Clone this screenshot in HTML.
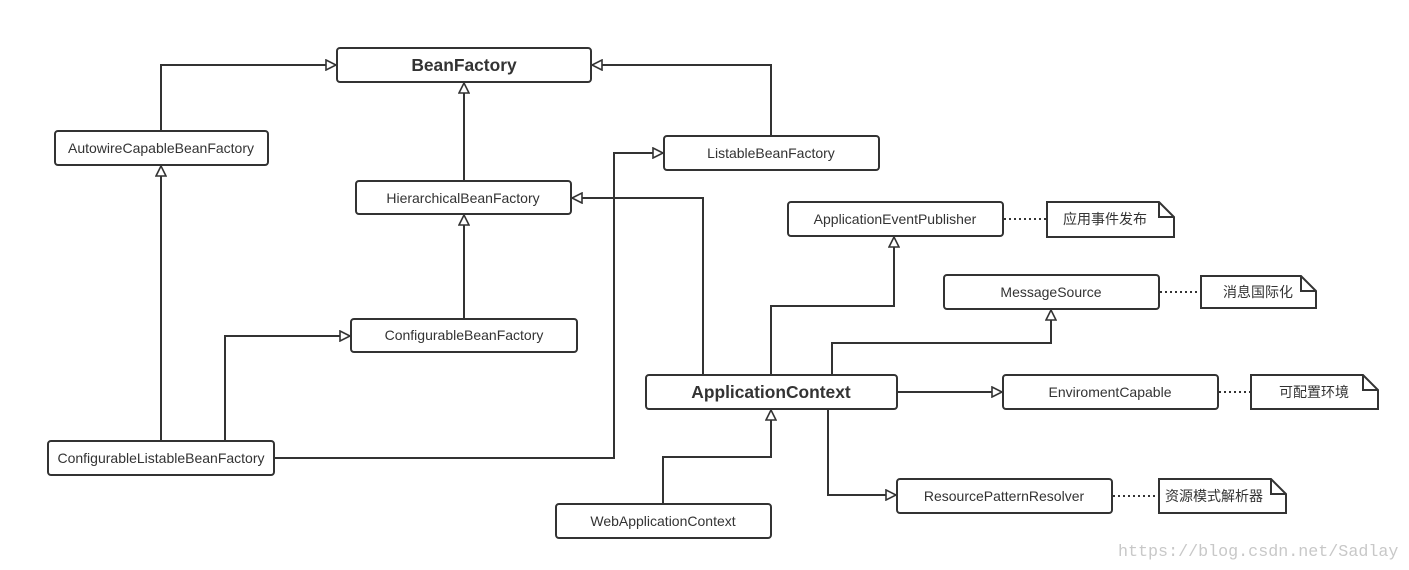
<!DOCTYPE html>
<html><head><meta charset="utf-8"><style>
html,body{margin:0;padding:0;background:#fff}
svg{display:block}
text{font-family:"Liberation Sans","Noto Sans CJK SC",sans-serif;fill:#333;font-size:14px}
.b{font-weight:bold;font-size:17.4px}
</style></head><body>
<svg width="1409" height="570" viewBox="0 0 1409 570" xmlns="http://www.w3.org/2000/svg">
<defs>
<marker id="t" viewBox="0 0 12 12" refX="11" refY="6" markerWidth="12" markerHeight="12" markerUnits="userSpaceOnUse" orient="auto">
<path d="M1,1 L11,6 L1,11 Z" fill="#fff" stroke="#333" stroke-width="1.6"/>
</marker>
</defs>
<g fill="none" stroke="#333" stroke-width="2">
<polyline points="161,131 161,65 336,65" marker-end="url(#t)"/>
<polyline points="771,136 771,65 592,65" marker-end="url(#t)"/>
<polyline points="464,181 464,83" marker-end="url(#t)"/>
<polyline points="464,319 464,215" marker-end="url(#t)"/>
<polyline points="161,441 161,166" marker-end="url(#t)"/>
<polyline points="225,441 225,336 350,336" marker-end="url(#t)"/>
<polyline points="274,458 614,458 614,153 663,153" marker-end="url(#t)"/>
<polyline points="703,375 703,198 572,198" marker-end="url(#t)"/>
<polyline points="771,375 771,306 894,306 894,237" marker-end="url(#t)"/>
<polyline points="832,375 832,343 1051,343 1051,310" marker-end="url(#t)"/>
<polyline points="897,392 1002,392" marker-end="url(#t)"/>
<polyline points="828,409 828,495 896,495" marker-end="url(#t)"/>
<polyline points="663,504 663,457 771,457 771,410" marker-end="url(#t)"/>
</g>
<g stroke="#333" stroke-width="2" stroke-dasharray="2,3">
<line x1="1004" y1="219" x2="1046" y2="219"/>
<line x1="1160" y1="292" x2="1200" y2="292"/>
<line x1="1219" y1="392" x2="1250" y2="392"/>
<line x1="1113" y1="496" x2="1158" y2="496"/>
</g>
<g fill="#fff" stroke="#333" stroke-width="2">
<rect x="337" y="48" width="254" height="34" rx="3"/>
<rect x="55" y="131" width="213" height="34" rx="3"/>
<rect x="664" y="136" width="215" height="34" rx="3"/>
<rect x="356" y="181" width="215" height="33" rx="3"/>
<rect x="788" y="202" width="215" height="34" rx="3"/>
<rect x="944" y="275" width="215" height="34" rx="3"/>
<rect x="351" y="319" width="226" height="33" rx="3"/>
<rect x="646" y="375" width="251" height="34" rx="3"/>
<rect x="1003" y="375" width="215" height="34" rx="3"/>
<rect x="48" y="441" width="226" height="34" rx="3"/>
<rect x="897" y="479" width="215" height="34" rx="3"/>
<rect x="556" y="504" width="215" height="34" rx="3"/>
<path d="M1047,202 H1159 L1174,217 V237 H1047 Z M1159,202 V217 H1174"/>
<path d="M1201,276 H1301 L1316,291 V308 H1201 Z M1301,276 V291 H1316"/>
<path d="M1251,375 H1363 L1378,390 V409 H1251 Z M1363,375 V390 H1378"/>
<path d="M1159,479 H1271 L1286,494 V513 H1159 Z M1271,479 V494 H1286"/>
</g>
<g text-anchor="middle">
<text class="b" x="464" y="71">BeanFactory</text>
<text x="161" y="153">AutowireCapableBeanFactory</text>
<text x="771" y="158">ListableBeanFactory</text>
<text x="463" y="203">HierarchicalBeanFactory</text>
<text x="895" y="224">ApplicationEventPublisher</text>
<text x="1051" y="297">MessageSource</text>
<text x="464" y="340">ConfigurableBeanFactory</text>
<text class="b" x="771" y="398">ApplicationContext</text>
<text x="1110" y="397">EnviromentCapable</text>
<text x="161" y="463">ConfigurableListableBeanFactory</text>
<text x="1004" y="501">ResourcePatternResolver</text>
<text x="663" y="526">WebApplicationContext</text>
<text x="1105" y="224">应用事件发布</text>
<text x="1258" y="297">消息国际化</text>
<text x="1314" y="397">可配置环境</text>
<text x="1214" y="501">资源模式解析器</text>
</g>
<text x="1118" y="556" style="font-family:'Liberation Mono',monospace;font-size:16.7px;fill:#c8c8c8">https://blog.csdn.net/Sadlay</text>
</svg>
</body></html>
